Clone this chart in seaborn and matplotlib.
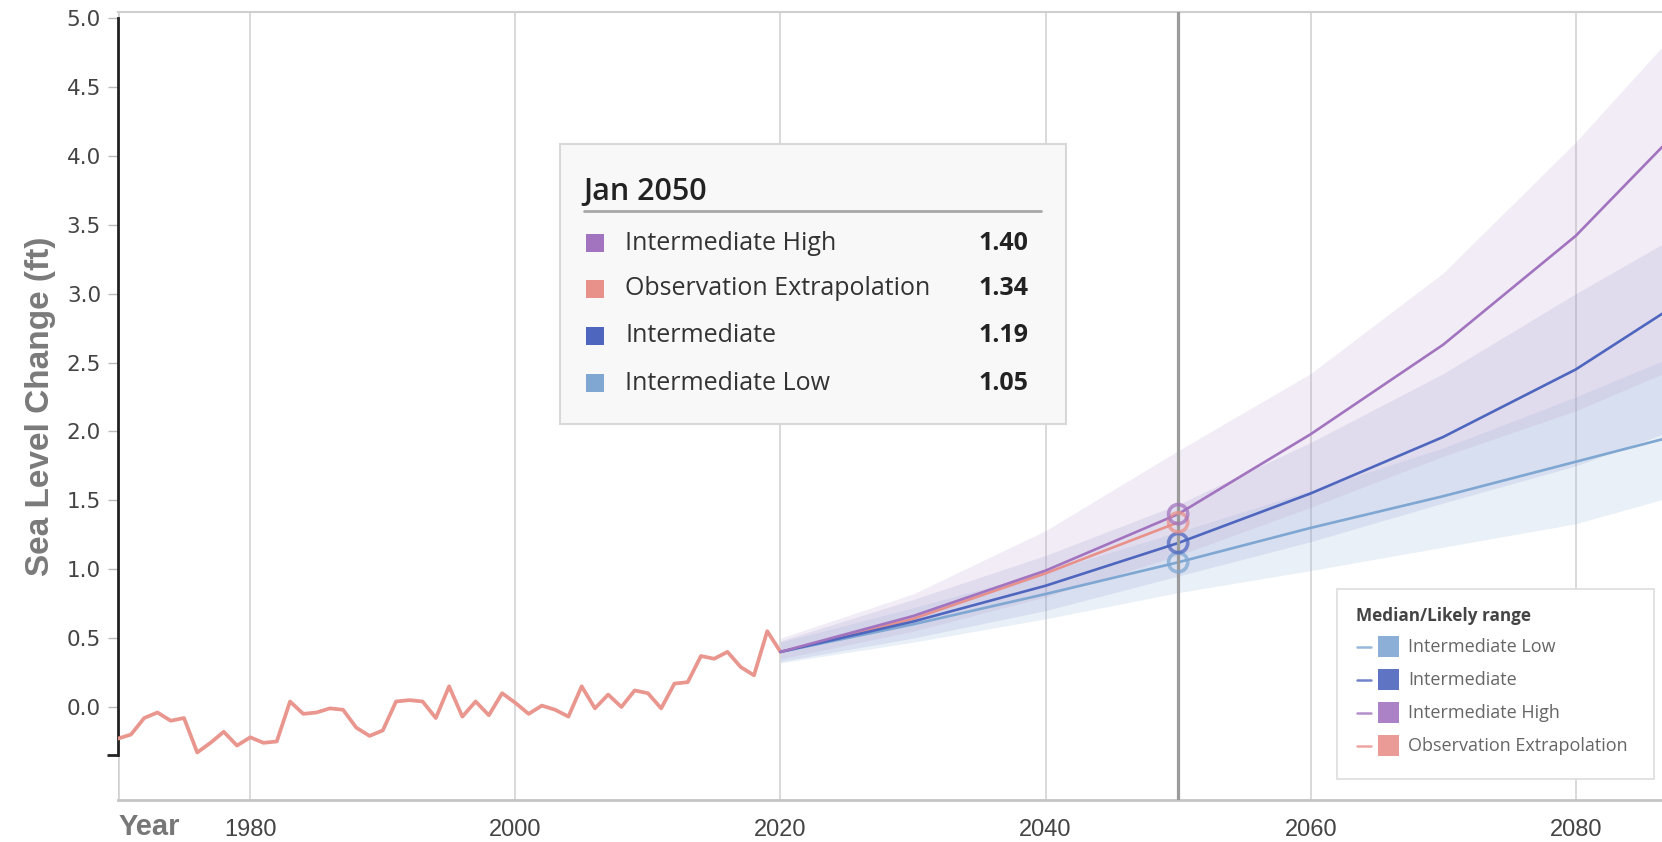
import numpy as np
import pandas as pd
import matplotlib
matplotlib.use("Agg")
import matplotlib.pyplot as plt
from matplotlib.patches import Rectangle
from matplotlib.lines import Line2D
import seaborn as sns

# ---------------- data ----------------
obs_years = list(range(1970, 2021))
obs_vals = [-0.23, -0.20, -0.08, -0.04, -0.10, -0.08, -0.33, -0.26, -0.18, -0.28,
            -0.22, -0.26, -0.25, 0.04, -0.05, -0.04, -0.01, -0.02, -0.15, -0.21,
            -0.17, 0.04, 0.05, 0.04, -0.08, 0.15, -0.07, 0.04, -0.06, 0.10,
            0.03, -0.05, 0.01, -0.02, -0.07, 0.15, -0.01, 0.09, 0.00, 0.12,
            0.10, -0.01, 0.17, 0.18, 0.37, 0.35, 0.40, 0.29, 0.23, 0.55, 0.40]

proj_years = [2020, 2030, 2040, 2050, 2060, 2070, 2080, 2090]

il_med = [0.40, 0.60, 0.82, 1.05, 1.30, 1.53, 1.78, 2.03]
il_low = [0.32, 0.47, 0.64, 0.83, 0.99, 1.16, 1.33, 1.60]
il_up = [0.47, 0.72, 0.98, 1.27, 1.57, 1.88, 2.25, 2.65]

int_med = [0.40, 0.62, 0.88, 1.19, 1.55, 1.96, 2.45, 3.07]
int_low = [0.33, 0.50, 0.70, 0.95, 1.20, 1.48, 1.75, 2.10]
int_up = [0.48, 0.78, 1.10, 1.47, 1.92, 2.42, 3.00, 3.55]

ih_med = [0.40, 0.66, 0.99, 1.40, 1.98, 2.63, 3.42, 4.41]
ih_low = [0.35, 0.55, 0.80, 1.10, 1.45, 1.82, 2.15, 2.56]
ih_up = [0.50, 0.82, 1.28, 1.86, 2.42, 3.15, 4.10, 5.16]

oe_years = [2020, 2030, 2040, 2050]
oe_med = [0.40, 0.64, 0.97, 1.34]

tip_labels = ["Intermediate High", "Observation Extrapolation", "Intermediate", "Intermediate Low"]
tip_values = ["1.40", "1.34", "1.19", "1.05"]
legend_labels = ["Intermediate Low", "Intermediate", "Intermediate High", "Observation Extrapolation"]

y_ticks = [0.0, 0.5, 1.0, 1.5, 2.0, 2.5, 3.0, 3.5, 4.0, 4.5, 5.0]
x_ticks = [1980, 2000, 2020, 2040, 2060, 2080]
hover_year = 2050

colors = {
    "Intermediate Low": "#7FA7D2",
    "Intermediate": "#4E66BE",
    "Intermediate High": "#A274BF",
    "Observation Extrapolation": "#E8908A",
}
band_colors = {
    "Intermediate Low": ("#9DBBDD", 0.22),
    "Intermediate": ("#7A80C8", 0.15),
    "Intermediate High": ("#B99ACB", 0.19),
}

# ---------------- figure ----------------
sns.set_theme(style="white")
plt.rcParams["font.family"] = ["Liberation Sans", "DejaVu Sans"]

W, H = 1662, 842
fig = plt.figure(figsize=(W / 100, H / 100), dpi=100)
ax_l, ax_r, ax_t, ax_b = 117.7, 1662, 11.7, 800
ax = fig.add_axes([ax_l / W, 1 - ax_b / H, (ax_r - ax_l) / W, (ax_b - ax_t) / H])


def px(x, y):
    return (x / W, 1 - y / H)


ax.set_xlim(1970, 2086.5)
ax.set_ylim(-0.675, 5.046)

# grid lines
for xt in x_ticks:
    ax.axvline(xt, color="#d9d9d9", lw=1.4, zorder=0)

# bands
for name, lo, up in [("Intermediate Low", il_low, il_up),
                     ("Intermediate", int_low, int_up),
                     ("Intermediate High", ih_low, ih_up)]:
    c, a = band_colors[name]
    ax.fill_between(proj_years, lo, up, color=c, alpha=a, lw=0, zorder=1)

# lines via seaborn
obs_df = pd.DataFrame({"year": obs_years, "value": obs_vals})
sns.lineplot(data=obs_df, x="year", y="value", color="#E9968F",
             lw=2.7, ax=ax, zorder=3)

rows = []
for name, yrs, vals in [("Observation Extrapolation", oe_years, oe_med),
                        ("Intermediate Low", proj_years, il_med),
                        ("Intermediate", proj_years, int_med),
                        ("Intermediate High", proj_years, ih_med)]:
    for yv, v in zip(yrs, vals):
        rows.append({"year": yv, "value": v, "scenario": name})
proj_df = pd.DataFrame(rows)
sns.lineplot(data=proj_df, x="year", y="value", hue="scenario", palette=colors,
             lw=1.9, ax=ax, legend=False, zorder=4, sort=False, estimator=None)

# hover line and circles
ax.axvline(hover_year, color="#9b9b9b", lw=2.3, zorder=5)
hov = pd.DataFrame({
    "year": [hover_year] * 4,
    "value": [il_med[3], int_med[3], oe_med[3], ih_med[3]],
    "scenario": ["Intermediate Low", "Intermediate", "Observation Extrapolation", "Intermediate High"],
})
for _, r in hov.iterrows():
    ax.scatter(r["year"], r["value"], s=190, facecolor="none",
               edgecolor=colors[r["scenario"]], linewidth=2.6, zorder=6, alpha=0.75)

# spines
for s in ["top", "bottom", "left"]:
    ax.spines[s].set_visible(True)
ax.spines["right"].set_visible(False)
ax.spines["top"].set_color("#cfcfcf")
ax.spines["top"].set_linewidth(1.5)
ax.spines["bottom"].set_color("#c4c4c4")
ax.spines["bottom"].set_linewidth(2.0)
ax.spines["left"].set_color("#222222")
ax.spines["left"].set_linewidth(2.0)
ax.spines["left"].set_bounds(-0.35, 5.0)
ax.axvline(1970, color="#cfcfcf", lw=1.8, zorder=0)

ax.set_yticks(y_ticks)
ax.set_yticklabels([f"{v:.1f}" for v in y_ticks], fontfamily="DejaVu Sans", fontsize=15.5, color="#444444")
ax.set_yticks([-0.35], minor=True)
ax.tick_params(axis="y", which="major", length=7, width=1, color="#bbbbbb", direction="out", pad=5, left=True)
ax.tick_params(axis="y", which="minor", length=8, width=2, color="#222222", direction="out", left=True)
ax.set_xticks(x_ticks)
ax.set_xticklabels([str(v) for v in x_ticks], fontsize=17, color="#444444")
ax.tick_params(axis="x", length=0, pad=14)
ax.grid(False)
ax.set_xlabel("")
ax.set_ylabel("Sea Level Change (ft)", fontsize=24, fontweight="bold", color="#7a7a7a", labelpad=8)

fig.text(*px(119, 827), "Year", fontsize=21, fontweight="bold", color="#777777", va="center", ha="left")

# ---------------- tooltip ----------------
of = ["Open Sans", "DejaVu Sans"]
x0, y0 = px(560, 424)
x1, y1 = px(1066, 144)
fig.patches.append(Rectangle((x0, y0), x1 - x0, y1 - y0, transform=fig.transFigure,
                             facecolor="#f8f8f8", edgecolor="#d8d8d8", lw=1.5, zorder=10))
fig.text(*px(583, 192), "Jan 2050", fontsize=22, fontweight="semibold", color="#222222",
         family=of, va="center", ha="left", zorder=11)
fig.lines.append(Line2D([584 / W, 1041 / W], [1 - 211 / H, 1 - 211 / H], transform=fig.transFigure,
                        color="#a8a8a8", lw=2, zorder=11))
row_y = [243, 289, 336, 383]
for lab, val, yy in zip(tip_labels, tip_values, row_y):
    sx, sy = px(586, yy + 9)
    fig.patches.append(Rectangle((sx, sy), 18 / W, 18 / H, transform=fig.transFigure,
                                 facecolor=colors[lab], edgecolor="none", zorder=11))
    fig.text(*px(625, yy), lab, fontsize=18, color="#333333", family=of, va="center", ha="left", zorder=11)
    fig.text(*px(1028, yy), val, fontsize=18, fontweight="bold", color="#222222", family=of,
             va="center", ha="right", zorder=11)

# ---------------- legend ----------------
lx0, ly0 = px(1337, 779)
lx1, ly1 = px(1654, 589)
fig.patches.append(Rectangle((lx0, ly0), lx1 - lx0, ly1 - ly0, transform=fig.transFigure,
                             facecolor="white", edgecolor="#dddddd", lw=1.2, zorder=10))
fig.text(*px(1356, 616), "Median/Likely range", fontsize=12.3, fontweight="bold", color="#444444",
         family=of, va="center", ha="left", zorder=11)
leg_y = [647, 680, 713, 746]
for lab, yy in zip(legend_labels, leg_y):
    fig.lines.append(Line2D([1357 / W, 1371 / W], [1 - yy / H, 1 - yy / H], transform=fig.transFigure,
                            color=colors[lab], lw=1.8, alpha=0.8, zorder=11))
    sx, sy = px(1378, yy + 10)
    fig.patches.append(Rectangle((sx, sy), 21 / W, 21 / H, transform=fig.transFigure,
                                 facecolor=colors[lab], edgecolor="none", alpha=0.9, zorder=11))
    fig.text(*px(1408, yy), lab, fontsize=13, color="#666666", family=of, va="center", ha="left", zorder=11)

fig.savefig("out.png", dpi=100)
